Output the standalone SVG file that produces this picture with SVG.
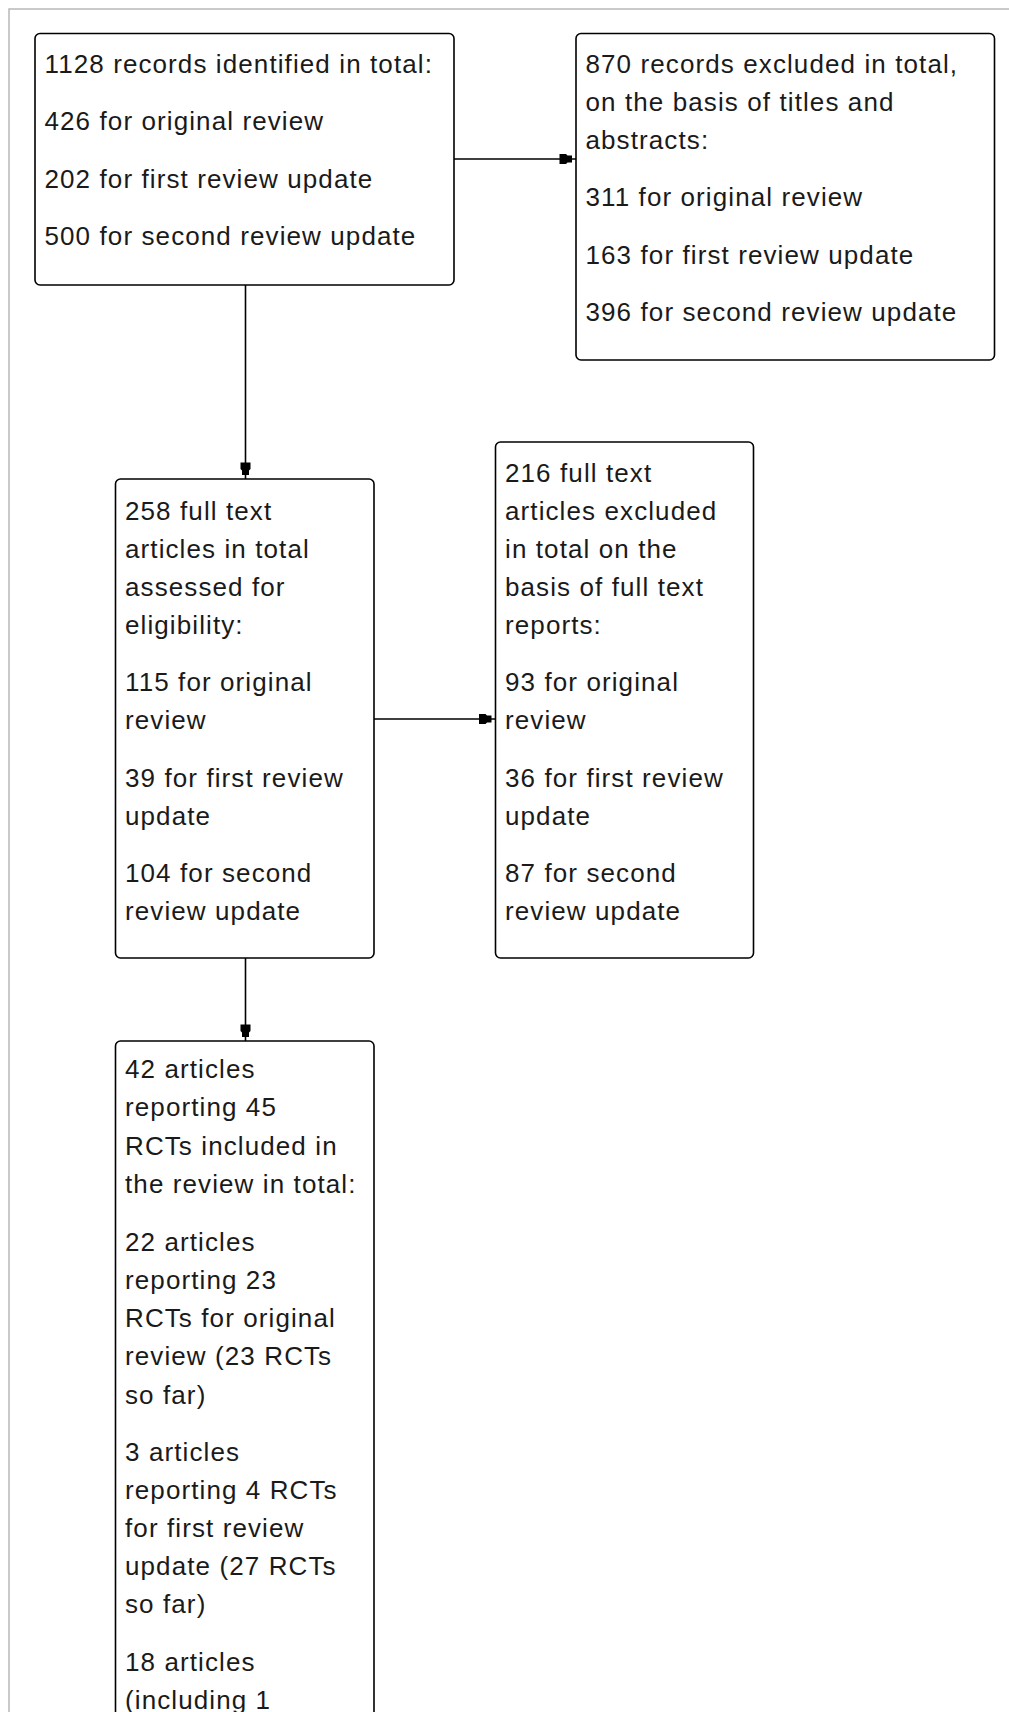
<svg xmlns="http://www.w3.org/2000/svg" width="1009" height="1712" viewBox="0 0 1009 1712">
  <style>
    .box { fill: #ffffff; stroke: #000000; stroke-width: 1.6; }
    .t { font-family: "Liberation Sans", Arial, sans-serif; font-size: 26px; letter-spacing: 1.1px; fill: #1a1a1a; }
    .conn { stroke: #000000; stroke-width: 1.6; fill: none; marker-end: url(#ah); }
  </style>
  <defs>
    <marker id="ah" markerUnits="userSpaceOnUse" viewBox="-17 -6 17 12" markerWidth="17" markerHeight="12" refX="0" refY="0" orient="auto">
      <path d="M-16.5,-5 L-10,-5 L-8.5,-3.5 L-4,-3.5 L-4,3.5 L-8.5,3.5 L-10,5 L-16.5,5 Z" fill="#000000"/>
    </marker>
  </defs>
  <rect x="0" y="0" width="1009" height="1712" fill="#ffffff"/>
  <rect x="9" y="9" width="1100" height="1800" fill="none" stroke="#b8b8b8" stroke-width="1.5"/>

  <g id="connectors">
    <line class="conn" x1="454" y1="159" x2="576" y2="159"/>
    <line class="conn" x1="245.5" y1="285" x2="245.5" y2="479"/>
    <line class="conn" x1="374" y1="719" x2="495.5" y2="719"/>
    <line class="conn" x1="245.5" y1="958" x2="245.5" y2="1041"/>
  </g>

  <g id="records-identified">
    <rect class="box" x="35" y="33.5" width="419" height="251.5" rx="5"/>
    <text class="t">
      <tspan x="44.5" y="72.5">1128 records identified in total:</tspan>
      <tspan x="44.5" y="130">426 for original review</tspan>
      <tspan x="44.5" y="187.5">202 for first review update</tspan>
      <tspan x="44.5" y="245">500 for second review update</tspan>
    </text>
  </g>

  <g id="records-excluded">
    <rect class="box" x="576" y="33.5" width="418.5" height="326.5" rx="5"/>
    <text class="t">
      <tspan x="585.5" y="72.5">870 records excluded in total,</tspan>
      <tspan x="585.5" y="110.5">on the basis of titles and</tspan>
      <tspan x="585.5" y="148.5">abstracts:</tspan>
      <tspan x="585.5" y="206">311 for original review</tspan>
      <tspan x="585.5" y="263.5">163 for first review update</tspan>
      <tspan x="585.5" y="321">396 for second review update</tspan>
    </text>
  </g>

  <g id="fulltext-assessed">
    <rect class="box" x="115.5" y="479" width="258.5" height="479" rx="5"/>
    <text class="t">
      <tspan x="125" y="519.5">258 full text</tspan>
      <tspan x="125" y="557.5">articles in total</tspan>
      <tspan x="125" y="595.5">assessed for</tspan>
      <tspan x="125" y="633.5">eligibility:</tspan>
      <tspan x="125" y="691">115 for original</tspan>
      <tspan x="125" y="729">review</tspan>
      <tspan x="125" y="786.5">39 for first review</tspan>
      <tspan x="125" y="824.5">update</tspan>
      <tspan x="125" y="882">104 for second</tspan>
      <tspan x="125" y="920">review update</tspan>
    </text>
  </g>

  <g id="fulltext-excluded">
    <rect class="box" x="495.5" y="442" width="258" height="516" rx="5"/>
    <text class="t">
      <tspan x="505" y="481.5">216 full text</tspan>
      <tspan x="505" y="519.5">articles excluded</tspan>
      <tspan x="505" y="557.5">in total on the</tspan>
      <tspan x="505" y="595.5">basis of full text</tspan>
      <tspan x="505" y="633.5">reports:</tspan>
      <tspan x="505" y="691">93 for original</tspan>
      <tspan x="505" y="729">review</tspan>
      <tspan x="505" y="786.5">36 for first review</tspan>
      <tspan x="505" y="824.5">update</tspan>
      <tspan x="505" y="882">87 for second</tspan>
      <tspan x="505" y="920">review update</tspan>
    </text>
  </g>

  <g id="included">
    <rect class="box" x="115.5" y="1041" width="258.5" height="800" rx="5"/>
    <text class="t">
      <tspan x="125" y="1078">42 articles</tspan>
      <tspan x="125" y="1116">reporting 45</tspan>
      <tspan x="125" y="1154.5">RCTs included in</tspan>
      <tspan x="125" y="1193">the review in total:</tspan>
      <tspan x="125" y="1250.5">22 articles</tspan>
      <tspan x="125" y="1288.5">reporting 23</tspan>
      <tspan x="125" y="1327">RCTs for original</tspan>
      <tspan x="125" y="1365">review (23 RCTs</tspan>
      <tspan x="125" y="1403.5">so far)</tspan>
      <tspan x="125" y="1460.5">3 articles</tspan>
      <tspan x="125" y="1498.5">reporting 4 RCTs</tspan>
      <tspan x="125" y="1536.5">for first review</tspan>
      <tspan x="125" y="1574.5">update (27 RCTs</tspan>
      <tspan x="125" y="1612.5">so far)</tspan>
      <tspan x="125" y="1670.5">18 articles</tspan>
      <tspan x="125" y="1709">(including 1</tspan>
    </text>
  </g>
</svg>
